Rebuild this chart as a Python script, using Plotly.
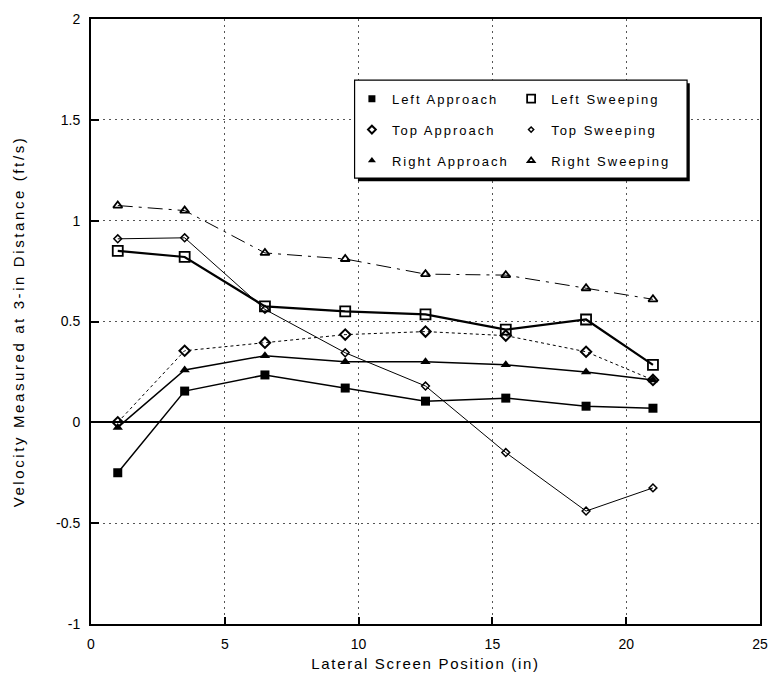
import plotly.graph_objects as go

# ---- data ----
positions = [1, 3.5, 6.5, 9.5, 12.5, 15.5, 18.5, 21]
left_approach = [-0.25, 0.155, 0.235, 0.17, 0.105, 0.12, 0.08, 0.07]
left_sweeping = [0.85, 0.82, 0.575, 0.55, 0.535, 0.46, 0.51, 0.285]
top_approach = [0.0, 0.355, 0.395, 0.435, 0.45, 0.43, 0.35, 0.21]
top_sweeping = [0.91, 0.915, 0.56, 0.345, 0.18, -0.15, -0.44, -0.325]
right_approach = [-0.025, 0.26, 0.33, 0.30, 0.30, 0.285, 0.25, 0.21]
right_sweeping = [1.075, 1.05, 0.84, 0.81, 0.735, 0.73, 0.665, 0.61]

series_names = ["Left Approach", "Left Sweeping", "Top Approach",
                "Top Sweeping", "Right Approach", "Right Sweeping"]
y_tick_vals = [-1, -0.5, 0, 0.5, 1, 1.5, 2]
y_tick_text = ["-1", "-0.5", "0", "0.5", "1", "1.5", "2"]
x_tick_vals = [0, 5, 10, 15, 20, 25]

FONT = "Arial, 'Liberation Sans', sans-serif"

styles = {
    "Left Approach": dict(symbol="square", size=9, lw=1.5, dash="solid", mlw=0),
    "Left Sweeping": dict(symbol="square-open", size=10, lw=2.2, dash="solid", mlw=1.8),
    "Top Approach": dict(symbol="diamond-open", size=8, lw=1, dash="dot", mlw=2),
    "Top Sweeping": dict(symbol="diamond-open", size=6, lw=1, dash="solid", mlw=1.5),
    "Right Approach": dict(symbol="triangle-up", size=9, lw=1.5, dash="solid", mlw=0),
    "Right Sweeping": dict(symbol="triangle-up-open", size=8, lw=1, dash="longdashdot", mlw=1.8),
}
values = {
    "Left Approach": left_approach,
    "Left Sweeping": left_sweeping,
    "Top Approach": top_approach,
    "Top Sweeping": top_sweeping,
    "Right Approach": right_approach,
    "Right Sweeping": right_sweeping,
}

fig = go.Figure()
# data traces
for name in series_names:
    st = styles[name]
    fig.add_trace(go.Scatter(
        x=positions, y=values[name], mode="lines+markers", name=name,
        showlegend=False,
        line=dict(color="black", width=st["lw"], dash=st["dash"]),
        marker=dict(symbol=st["symbol"], size=st["size"], color="black",
                    line=dict(color="black", width=st["mlw"])),
    ))

# legend entries (marker only), two columns
for name in series_names:
    st = styles[name]
    leg = "legend" if "Approach" in name else "legend2"
    fig.add_trace(go.Scatter(
        x=[None], y=[None], mode="markers",
        name='<span style="letter-spacing:2px">' + name + '</span>',
        legend=leg, legendgroup=name,
        marker=dict(symbol=st["symbol"], size=st["size"] - 2, color="black",
                    line=dict(color="black", width=st["mlw"])),
    ))

legend_common = dict(bgcolor="rgba(0,0,0,0)", borderwidth=0,
                     font=dict(family=FONT, size=13, color="black"),
                     xanchor="left", yanchor="top", itemwidth=30,
                     tracegroupgap=11)

fig.update_layout(
    width=778, height=684,
    margin=dict(l=91, r=10, t=19, b=60),
    paper_bgcolor="white", plot_bgcolor="white",
    font=dict(family=FONT, size=12, color="black"),
    legend=dict(x=0.39, y=0.893, **legend_common),
    legend2=dict(x=0.628, y=0.893, **legend_common),
    shapes=[
        dict(type="rect", xref="paper", yref="paper",
             x0=0.399, x1=0.895, y0=0.732, y1=0.894,
             line=dict(color="black", width=0), fillcolor="black", layer="above"),
        dict(type="rect", xref="paper", yref="paper",
             x0=0.394, x1=0.891, y0=0.737, y1=0.899,
             line=dict(color="black", width=1.2), fillcolor="white", layer="above"),
    ],
)

fig.update_xaxes(
    range=[0, 25], tickvals=x_tick_vals,
    showgrid=True, gridcolor="#555", griddash="2px,4px", gridwidth=1,
    ticks="inside", ticklen=7, tickwidth=1.5, tickcolor="black",
    showline=True, linecolor="black", linewidth=2, mirror=True,
    zeroline=False, ticklabelstandoff=6,
    tickfont=dict(family=FONT, size=14, color="black"),
    title=dict(text='<span style="letter-spacing:1.7px">Lateral Screen Position (in)</span>',
               font=dict(family=FONT, size=15, color="black"), standoff=8),
)
fig.update_yaxes(
    range=[-1, 2], tickvals=y_tick_vals, ticktext=y_tick_text,
    showgrid=True, gridcolor="#555", griddash="2px,4px", gridwidth=1,
    ticks="inside", ticklen=8, tickwidth=1.5, tickcolor="black",
    showline=True, linecolor="black", linewidth=2, mirror=True,
    zeroline=True, zerolinecolor="black", zerolinewidth=1.5,
    ticklabelstandoff=6,
    tickfont=dict(family=FONT, size=14, color="black"),
    title=dict(text='<span style="letter-spacing:2.6px">Velocity Measured at 3-in Distance (ft/s)</span>',
               font=dict(family=FONT, size=15, color="black"), standoff=28),
)

fig.write_html("out.html")
